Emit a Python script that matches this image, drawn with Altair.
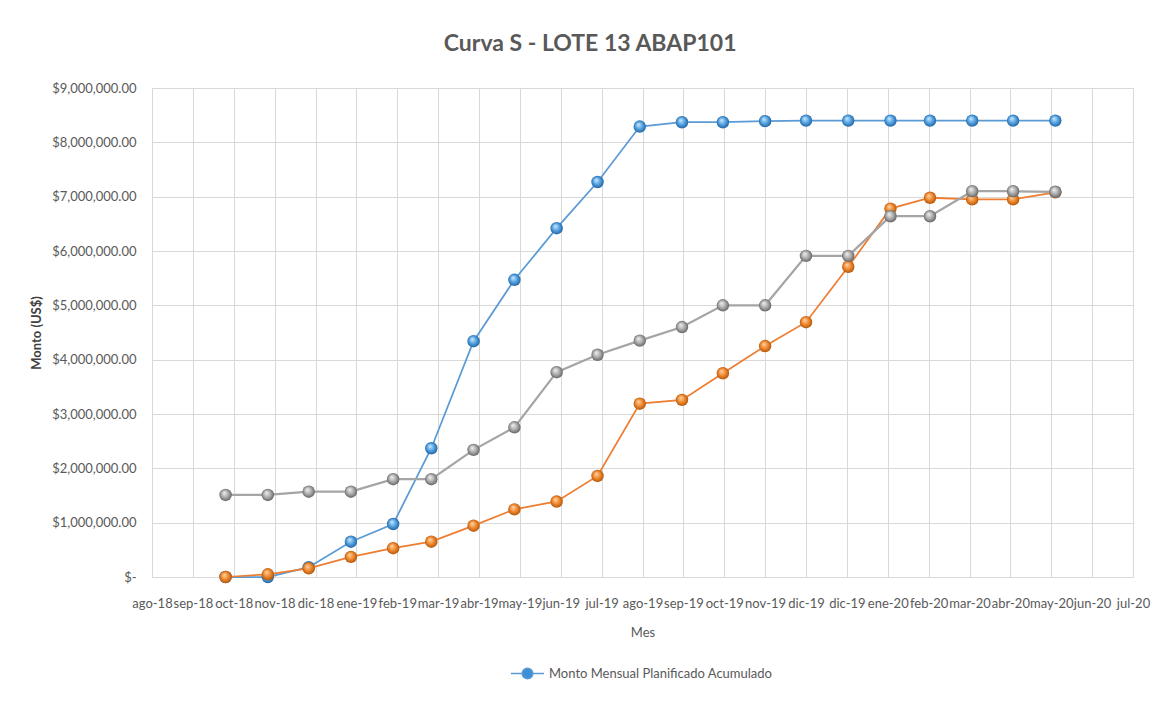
import altair as alt
import pandas as pd

# ---- data ----
FECHAS = [
    "2018-10-01", "2018-11-01", "2018-12-01", "2019-01-01", "2019-02-01", "2019-03-01",
    "2019-04-01", "2019-05-01", "2019-06-01", "2019-07-01", "2019-08-01", "2019-09-01",
    "2019-10-01", "2019-11-01", "2019-12-01", "2020-01-01", "2020-02-01", "2020-03-01",
    "2020-04-01", "2020-05-01", "2020-06-01",
]
PLANIFICADO = [
    0, 0, 180000, 650000, 975000, 2370000, 4340000, 5470000, 6420000, 7270000, 8290000,
    8370000, 8370000, 8390000, 8400000, 8400000, 8400000, 8400000, 8400000, 8400000, 8400000,
]
EJECUTADO = [
    0, 50000, 160000, 370000, 530000, 650000, 945000, 1245000, 1390000, 1860000, 3190000,
    3260000, 3750000, 4250000, 4690000, 5710000, 6780000, 6980000, 6950000, 6950000, 7080000,
]
VALORIZADO = [
    1510000, 1510000, 1570000, 1570000, 1800000, 1800000, 2340000, 2755000, 3770000, 4090000, 4350000,
    4600000, 5000000, 5000000, 5910000, 5910000, 6640000, 6640000, 7100000, 7100000, 7090000,
]
SERIES = [
    "Monto Mensual Planificado Acumulado",
    "Monto Mensual Ejecutado Acumulado",
    "Monto Mensual Valorizado Acumulado",
]
# axis ticks (Excel date axis, 30-day major unit)
XTICK_DATES = [
    "2018-08-08", "2018-09-07", "2018-10-07", "2018-11-06", "2018-12-06", "2019-01-05",
    "2019-02-04", "2019-03-06", "2019-04-05", "2019-05-05", "2019-06-04", "2019-07-04",
    "2019-08-03", "2019-09-02", "2019-10-02", "2019-11-01", "2019-12-01", "2019-12-31",
    "2020-01-30", "2020-02-29", "2020-03-30", "2020-04-29", "2020-05-29", "2020-06-28",
    "2020-07-28",
]
MESES = ["ene", "feb", "mar", "abr", "may", "jun", "jul", "ago", "sep", "oct", "nov", "dic"]
YTICKS = [0, 1000000, 2000000, 3000000, 4000000, 5000000, 6000000, 7000000, 8000000, 9000000]

LINE_COLORS = ["#5B9BD5", "#ED7D31", "#A5A5A5"]
GRAD = [
    ["#d2ecfc", "#4f9fe0", "#1d5a96"],
    ["#ffd7ae", "#ef862a", "#a64f0a"],
    ["#f4f4f4", "#a8a8a8", "#5a5a5a"],
]

rows = []
for s, vals in zip(SERIES, [PLANIFICADO, EJECUTADO, VALORIZADO]):
    for f, v in zip(FECHAS, vals):
        rows.append({"fecha": f, "monto": v, "serie": s})
df = pd.DataFrame(rows)

def ms(d):
    return int(pd.Timestamp(d).value // 10**6)

tick_ms = [ms(d) for d in XTICK_DATES]
FONT = "Lato"
TXT = "#595959"

month_arr = "[" + ",".join("'%s'" % m for m in MESES) + "]"
x_enc = alt.X(
    "fecha:T",
    title="Mes",
    scale=alt.Scale(type="utc", domain=[tick_ms[0], tick_ms[-1]], nice=False),
    axis=alt.Axis(
        values=tick_ms,
        labelExpr=month_arr + "[utcmonth(datum.value)] + '-' + utcFormat(datum.value, '%y')",
        grid=True, gridColor="#d9d9d9", gridWidth=1, labelFlush=False,
        ticks=False, domainColor="#d9d9d9", labelColor=TXT, labelFontSize=13,
        labelPadding=20, labelFont=FONT, labelOverlap=False, labelAngle=0,
        titleFont=FONT, titleFontSize=13, titleFontWeight="normal", titleColor=TXT,
        titlePadding=16,
    ),
)
y_enc = alt.Y(
    "monto:Q",
    title="Monto (US$)",
    scale=alt.Scale(domain=[0, 9000000], nice=False),
    axis=alt.Axis(
        values=YTICKS,
        labelExpr="datum.value == 0 ? '$-' : '$' + format(datum.value, ',.2f')",
        grid=True, gridColor="#d9d9d9", gridWidth=1, ticks=False, domain=False,
        labelColor=TXT, labelFontSize=13, labelFont=FONT, labelPadding=16,
        titleFont=FONT, titleFontSize=13, titleFontWeight="bold", titleColor="#404040",
        titlePadding=8,
    ),
)

layers = []
for i, s in enumerate(SERIES):
    sub = alt.Chart(df).transform_filter(alt.datum.serie == s)
    fill = alt.RadialGradient(
        gradient="radial",
        stops=[
            alt.GradientStop(offset=0, color=GRAD[i][0]),
            alt.GradientStop(offset=0.55, color=GRAD[i][1]),
            alt.GradientStop(offset=1, color=GRAD[i][2]),
        ],
        x1=0.38, y1=0.32, r1=0, x2=0.5, y2=0.5, r2=0.55,
    )
    if i == 0:
        color_enc = alt.Color(
            "serie:N",
            scale=alt.Scale(domain=[SERIES[0]], range=[LINE_COLORS[0]]),
            legend=alt.Legend(
                title=None, orient="none", legendX=358, legendY=568,
                symbolType="M -1 0 L -0.32 0 M 0.32 0 L 1 0 M -0.32 0 A 0.32 0.32 0 1 1 0.32 0 A 0.32 0.32 0 1 1 -0.32 0 Z",
                symbolSize=1100, symbolStrokeWidth=1.5, symbolStrokeColor=LINE_COLORS[0],
                symbolFillColor="#3d8fd6", labelFont=FONT, labelFontSize=13, labelColor=TXT,
                labelOffset=4, labelLimit=0,
            ),
        )
        line = sub.mark_line(strokeWidth=1.75).encode(x=x_enc, y=y_enc, color=color_enc)
    else:
        sw = 2.25 if i == 2 else 1.75
        line = sub.mark_line(strokeWidth=sw, color=LINE_COLORS[i]).encode(x=x_enc, y=y_enc)
    pts = sub.mark_point(filled=True, fill=fill, size=155, opacity=1, strokeWidth=0).encode(
        x=x_enc, y=y_enc
    )
    layers += [line, pts]

chart = (
    alt.layer(*layers)
    .properties(
        width=981,
        height=489,
        padding={"left": 22, "top": 25, "right": 5, "bottom": 5},
        title=alt.TitleParams(
            "Curva S - LOTE 13 ABAP101", font=FONT, fontSize=23, fontWeight="bold",
            color=TXT, offset=26, anchor="middle", frame="bounds",
        ),
    )
    .configure_view(stroke=None)
    .configure(font=FONT, background="white")
)

chart.save("out.html", embed_options={"renderer": "svg", "actions": False})
